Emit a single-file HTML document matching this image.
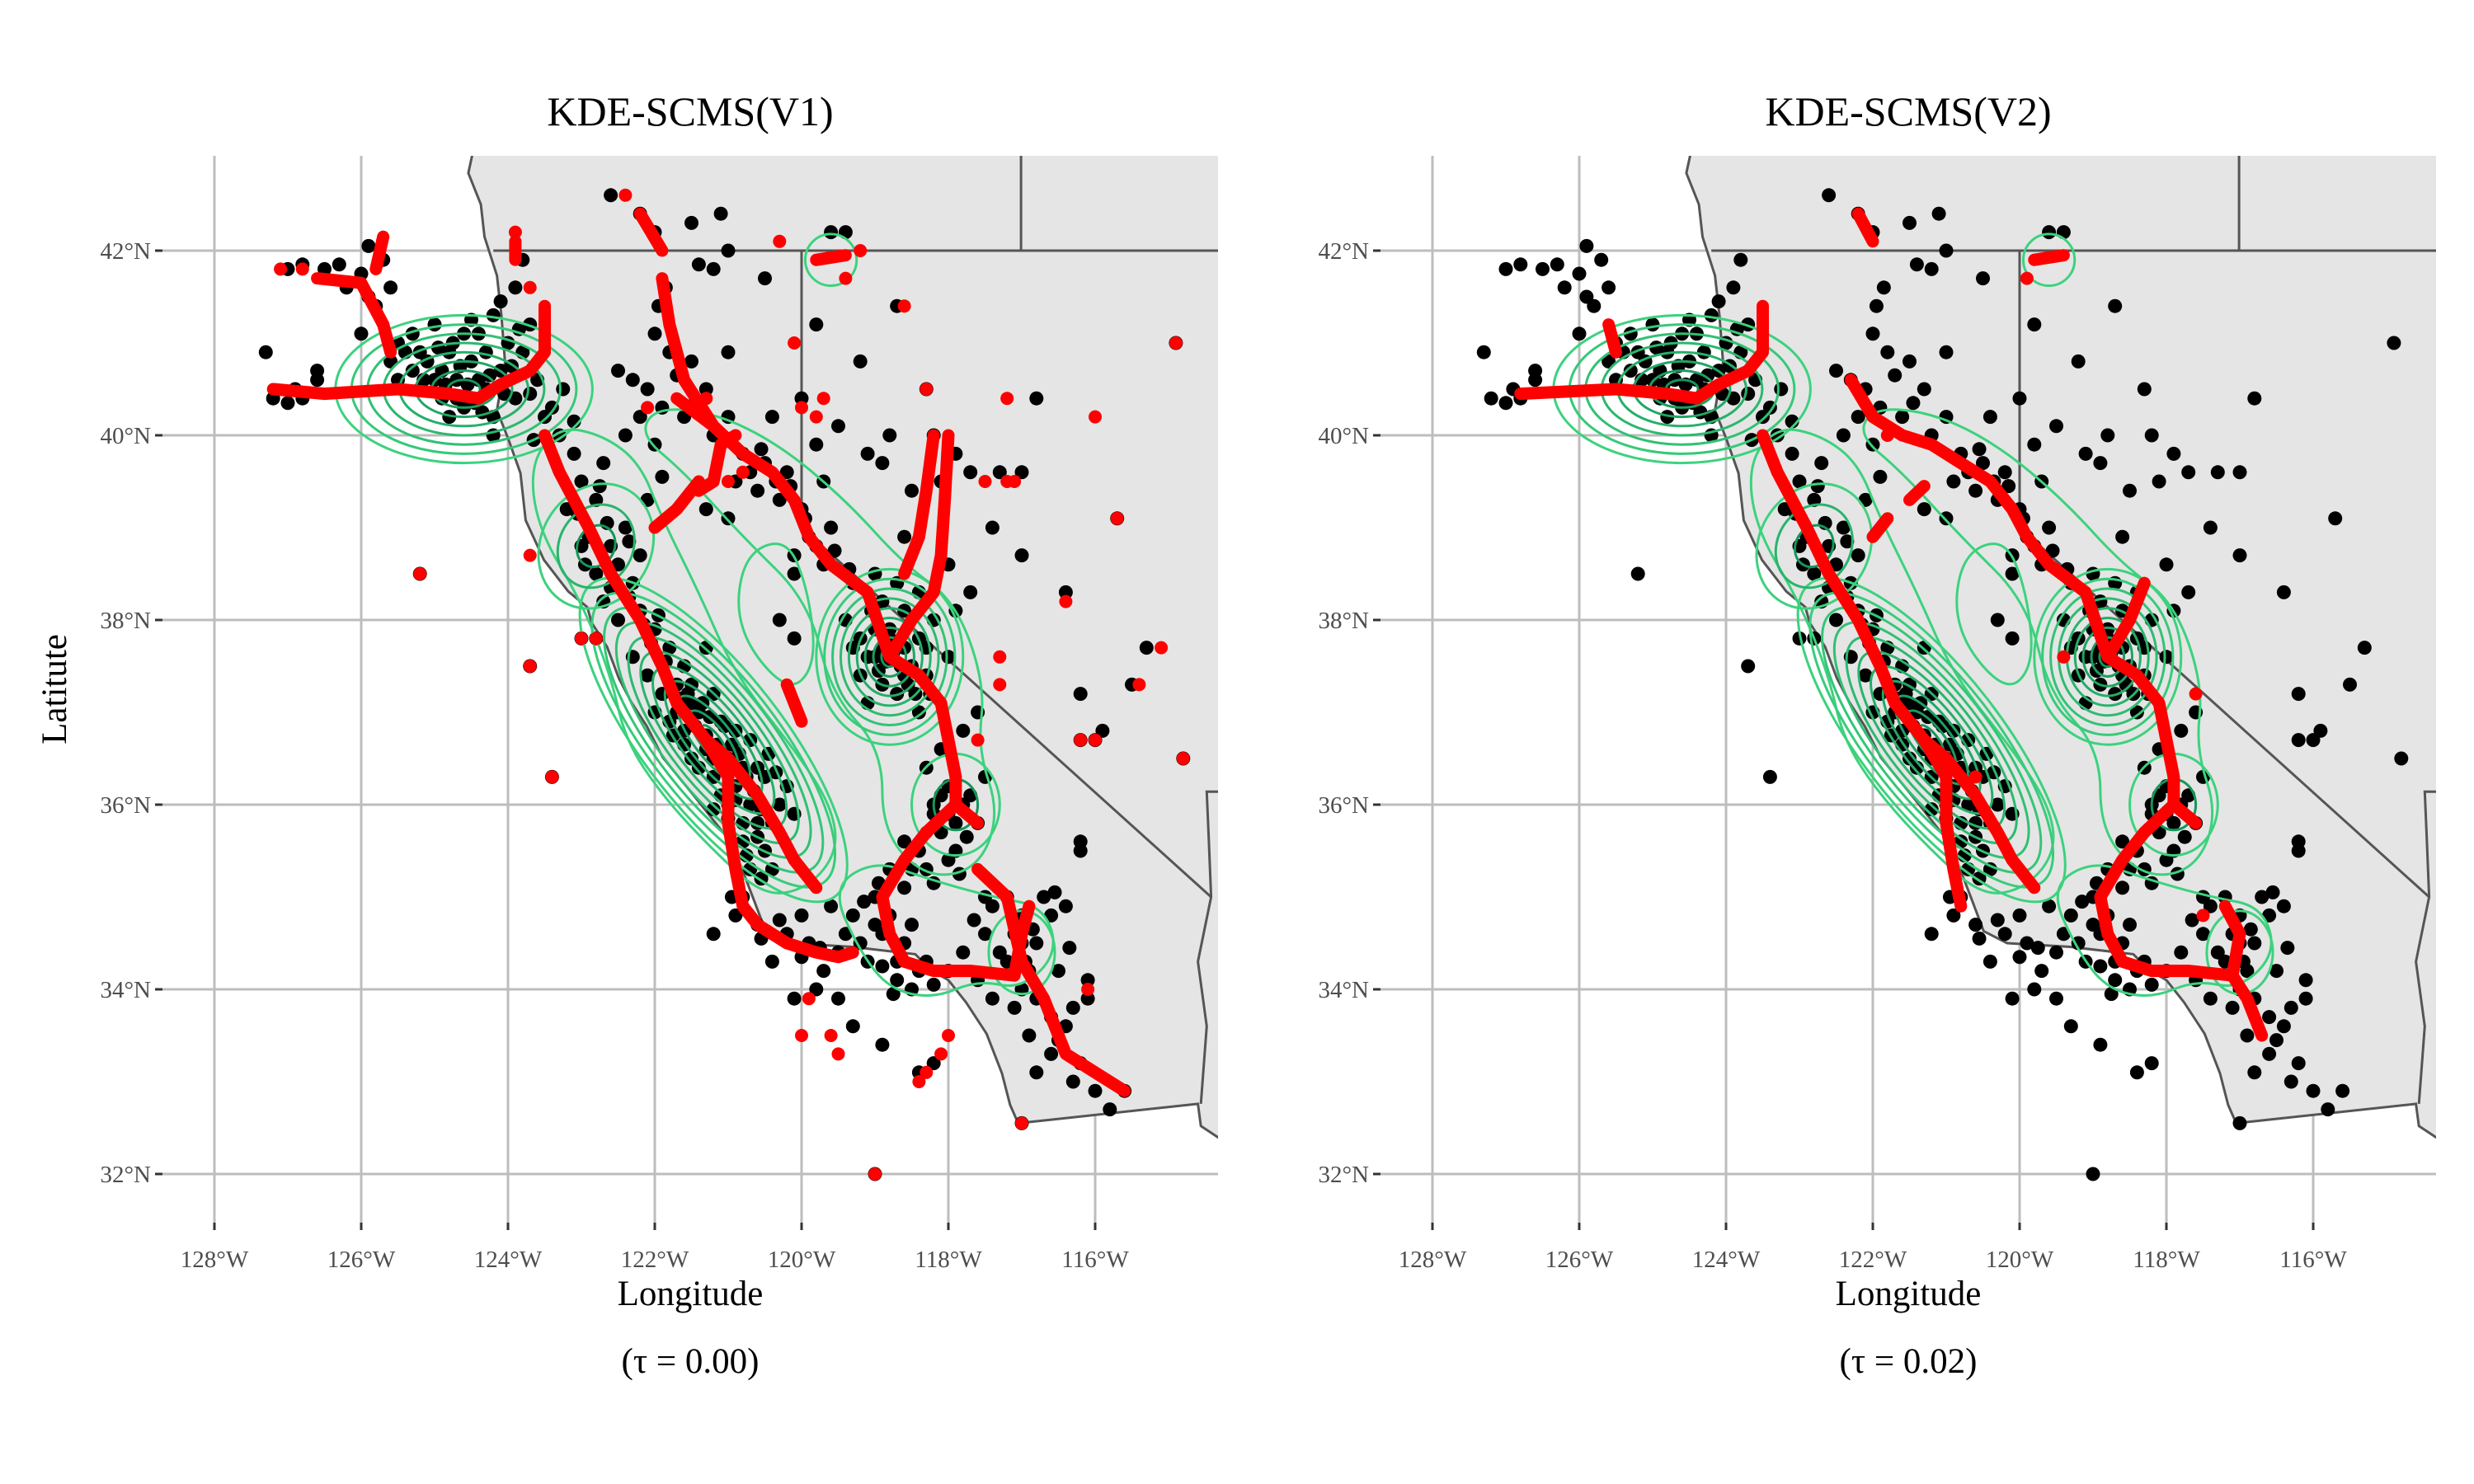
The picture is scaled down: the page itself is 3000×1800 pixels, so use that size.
<!DOCTYPE html>
<html><head><meta charset="utf-8"><style>
html,body{margin:0;padding:0;background:#fff;}
svg{display:block;font-family:"Liberation Serif",serif;}
</style></head><body>
<svg id="chart" width="3000" height="1800" viewBox="0 0 3000 1800" xmlns="http://www.w3.org/2000/svg"></svg>
<script>
// ---- data (lon, lat) ----
const lonTicks = [-128,-126,-124,-122,-120,-118,-116];
const lonTickLabels = ["128°W","126°W","124°W","122°W","120°W","118°W","116°W"];
const latTicks = [42,40,38,36,34,32];
const latTickLabels = ["42°N","40°N","38°N","36°N","34°N","32°N"];
const panelTitles = ["KDE-SCMS(V1)","KDE-SCMS(V2)"];
const panelTaus = ["(τ = 0.00)","(τ = 0.02)"];

const landPoly = [[-124.47,43.1],[-124.54,42.84],[-124.37,42.5],[-124.32,42.15],[-124.15,41.73],[-124.09,41.3],[-124.04,40.79],[-124.15,40.27],[-124.0,39.97],[-123.83,39.59],[-123.76,39.08],[-123.51,38.65],[-123.18,38.31],[-122.92,38.14],[-122.86,37.97],[-122.65,37.71],[-122.49,37.37],[-122.32,37.11],[-122.11,36.85],[-121.89,36.51],[-121.46,36.09],[-121.03,35.66],[-120.82,35.32],[-120.65,34.97],[-120.49,34.63],[-120.17,34.5],[-119.31,34.46],[-118.45,34.38],[-118.24,34.21],[-118.0,34.1],[-117.76,33.86],[-117.48,33.52],[-117.27,33.09],[-117.16,32.75],[-117.05,32.55],[-114.6,32.76],[-114.56,32.52],[-114.2,32.33],[-114.2,43.1]];
const borderOR = [[-124.2,42.0],[-114.2,42.0]];
const borderID = [[-117.01,43.1],[-117.01,42.0]];
const borderNV = [[-120.0,42.0],[-120.0,39.0],[-114.42,35.0]];
const borderAZ = [[-114.2,36.14],[-114.48,36.14],[-114.45,35.6],[-114.42,35.0],[-114.6,34.3],[-114.48,33.6],[-114.56,32.76]];

const blackPts = [[-127.3,40.9],[-127.2,40.4],[-127.0,40.35],[-126.9,40.5],[-126.8,40.4],[-126.6,40.6],[-126.5,41.8],[-126.3,41.85],[-126.2,41.6],[-126.0,41.75],[-125.9,41.5],[-125.8,41.4],[-125.7,41.9],[-125.9,42.05],[-126.0,41.1],[-125.6,41.6],[-125.5,41.0],[-125.4,40.9],[-125.3,40.7],[-125.2,40.5],[-125.1,40.8],[-125.0,40.6],[-124.9,40.4],[-124.8,40.9],[-124.7,40.6],[-124.6,40.3],[-124.5,40.8],[-124.4,41.1],[-124.3,40.5],[-124.2,40.2],[-124.1,40.7],[-124.0,41.0],[-123.9,40.4],[-123.8,40.9],[-124.6,41.1],[-125.0,41.2],[-124.8,40.2],[-125.5,40.6],[-126.6,40.7],[-127.0,41.8],[-126.8,41.85],[-124.2,41.3],[-123.7,41.2],[-123.6,40.6],[-123.5,40.2],[-123.8,41.9],[-123.9,41.6],[-124.2,40.0],[-124.4,40.6],[-124.9,40.7],[-125.2,40.9],[-124.7,40.4],[-124.3,40.9],
[-122.2,42.4],[-122.0,42.2],[-121.5,42.3],[-121.4,41.85],[-121.0,42.0],[-121.2,41.8],[-122.0,41.1],[-121.8,40.9],[-122.3,40.6],[-122.1,40.5],[-121.9,40.3],[-121.5,40.8],[-121.6,40.2],[-122.4,40.0],[-122.0,39.9],[-121.3,40.5],[-121.0,40.9],[-122.5,40.7],
[-123.4,40.3],[-123.3,40.0],[-123.1,39.8],[-123.0,39.5],[-122.8,39.3],[-122.7,39.7],[-123.2,39.2],[-122.9,38.9],[-122.6,38.8],[-122.5,38.6],[-122.3,38.4],[-122.8,38.5],[-123.0,38.8],[-122.4,39.0],[-122.2,38.7],[-122.7,38.2],[-122.5,38.0],[-122.2,38.1],[-122.0,37.9],[-122.3,37.6],[-121.8,37.7],[-122.1,37.4],[-121.9,37.2],[-121.7,37.0],[-121.5,37.3],[-121.6,36.8],[-121.3,36.6],[-121.4,37.0],[-121.1,36.9],[-121.0,36.5],[-121.2,36.3],[-120.9,36.2],[-120.7,36.0],[-121.0,36.0],[-120.6,35.8],[-120.8,35.6],[-120.5,35.5],[-120.7,35.3],[-120.4,35.3],[-120.6,36.4],[-120.9,36.8],[-121.2,37.2],[-120.7,36.7],[-120.5,36.3],[-120.3,36.0],[-120.4,35.8],[-120.1,35.9],[-121.5,36.5],[-121.8,36.9],[-122.0,37.0],[-121.6,37.5],[-121.3,37.7],[-121.4,36.4],[-121.1,36.1],[-120.8,36.4],[-121.7,37.3],
[-125.2,38.5],[-123.4,36.3],[-123.0,37.8],[-122.8,37.8],[-123.7,37.5],
[-121.2,40.0],[-120.8,39.8],[-120.5,39.7],[-120.6,39.4],[-120.3,39.3],[-120.0,39.2],[-120.2,39.6],[-119.8,39.9],[-119.7,39.5],[-120.9,39.5],[-121.0,40.2],[-120.4,40.2],[-119.9,38.9],[-119.6,39.0],[-119.7,38.6],[-120.1,38.5],[-120.3,38.0],[-120.1,37.8],
[-119.3,38.4],[-119.0,38.5],[-118.7,38.4],[-118.4,38.3],[-119.4,38.0],[-119.2,37.8],[-119.0,37.6],[-118.8,37.9],[-118.6,37.7],[-118.5,37.5],[-118.9,37.3],[-118.7,37.2],[-118.4,37.0],[-118.3,37.7],[-119.1,37.1],[-118.2,38.0],[-118.0,37.6],[-117.9,38.1],[-117.7,38.3],[-117.6,37.0],[-117.8,36.8],[-118.1,36.6],[-118.3,36.4],[-118.0,36.2],[-117.8,36.0],[-118.2,35.9],[-117.6,35.8],[-117.5,36.3],[-117.9,35.5],[-118.3,35.3],[-118.6,35.1],[-118.8,35.3],[-119.0,35.0],[-118.5,34.7],[-118.9,34.6],[-119.2,34.5],[-119.5,34.4],[-119.7,34.2],[-119.9,34.5],[-120.2,34.6],[-120.6,34.7],[-120.9,34.8],[-121.2,34.6],[-120.8,35.0],[-120.0,34.8],[-119.6,34.9],[-118.6,34.5],[-118.3,34.3],[-118.0,34.2],[-118.5,34.0],[-118.7,34.1],[-117.8,34.4],[-117.5,34.6],[-117.2,34.3],[-117.0,34.0],[-116.8,34.5],[-116.6,34.8],[-116.4,34.9],[-116.5,34.2],[-116.3,33.8],[-116.1,33.9],[-116.4,33.6],[-116.6,33.3],[-116.8,33.1],[-116.3,33.0],[-116.0,32.9],[-115.8,32.7],[-115.6,32.9],[-116.9,33.5],[-117.1,33.8],[-117.4,33.9],[-117.6,34.1],[-116.2,35.6],[-116.2,35.5],[-117.5,35.0],[-117.2,35.0],[-117.0,34.8],[-116.9,34.2],[-118.6,37.4],[-119.0,37.9],[-118.9,37.7],[-118.4,37.8],[-118.2,36.0],[-117.7,36.1],[-118.1,35.7],
[-119.5,33.9],[-119.3,33.6],[-118.9,33.4],[-118.4,33.1],[-120.1,33.9],[-120.4,34.3],[-119.8,34.0],[-118.2,33.2],
[-119.2,40.8],[-118.7,41.4],[-118.3,40.5],[-117.9,39.8],[-117.7,39.6],[-117.3,39.6],[-117.0,39.6],[-116.8,40.4],[-117.4,39.0],[-117.0,38.7],[-116.4,38.3],[-116.2,37.2],[-115.3,37.7],[-115.5,37.3],[-115.7,39.1],[-114.9,41.0],[-114.8,36.5],[-116.0,36.7],[-116.2,36.7],[-115.9,36.8],[-119.6,42.2],[-119.4,42.2],[-120.5,41.7],[-119.8,41.2],[-119.1,39.8],[-118.5,39.4],[-118.1,39.5],[-118.8,40.0],[-118.9,39.7],[-118.2,40.0],[-118.0,38.6],[-118.6,38.9],[-120.0,40.4],[-119.5,40.1],[-119.0,32.0],[-117.0,32.55],[-121.1,42.4],[-122.6,42.6]];
const blackPtsDense = [[-124.55,40.55],[-124.45,40.35],[-124.65,40.75],[-124.85,40.55],[-124.25,40.65],[-124.35,40.25],[-124.95,40.95],[-125.15,40.6],[-124.05,40.45],[-123.95,40.75],[-124.75,41.0],[-124.5,41.25],[-125.3,41.1],[-125.6,40.8],[-124.1,41.45],[-123.85,41.15],[-123.7,40.45],[-123.65,39.95],[-123.25,40.5],[-123.1,40.15],
[-121.3,36.75],[-121.15,36.65],[-121.05,36.85],[-121.25,36.95],[-121.45,36.85],[-121.35,37.1],[-121.5,37.1],[-120.95,36.65],[-120.85,36.55],[-121.1,36.45],[-120.75,36.3],[-120.65,36.15],[-120.9,36.05],[-121.0,35.85],[-120.8,35.8],[-120.55,35.95],[-121.55,37.2],[-121.65,37.15],[-121.85,37.55],[-122.05,37.75],[-121.95,38.05],[-122.15,37.95],[-122.35,38.25],[-122.6,38.35],[-121.2,36.5],[-121.6,36.65],[-121.75,36.75],[-120.45,36.55],[-120.35,36.35],[-120.2,36.2],[-120.6,35.65],[-120.75,35.45],[-121.2,35.95],[-120.55,35.2],[-120.95,35.0],
[-118.85,37.55],[-118.75,37.65],[-118.95,37.45],[-118.65,37.5],[-118.8,37.8],[-119.1,37.6],[-119.2,37.4],[-118.55,37.3],[-118.45,37.2],[-118.3,37.4],[-118.25,37.2],[-119.05,38.1],[-118.9,38.2],[-118.6,38.1],[-119.3,37.7],
[-118.0,35.9],[-117.9,35.8],[-118.1,36.1],[-117.75,35.65],[-118.0,35.4],[-118.4,35.5],[-118.6,35.6],[-118.8,34.8],[-119.0,34.7],[-118.7,34.3],[-118.9,34.25],[-118.4,34.2],[-118.2,34.05],[-118.75,33.95],[-119.1,34.3],[-117.3,34.4],[-117.0,34.5],[-117.1,34.6],[-116.95,34.3],[-116.8,33.9],[-116.6,33.7],[-116.5,33.45],[-116.2,33.2],[-116.7,35.0],[-116.55,35.05],
[-120.7,39.6],[-120.55,39.85],[-120.35,39.5],[-120.15,39.45],[-119.95,39.1],[-120.1,38.7],[-119.8,38.8],[-119.55,38.75],[-119.35,38.55],[-121.95,41.4],[-121.85,41.6],[-121.7,40.65],[-121.45,40.35],[-122.2,40.2],[-122.65,39.05],[-122.75,39.45],[-123.05,39.15],[-122.95,38.6],[-122.35,38.85],[-122.1,39.3],[-121.9,39.55],[-121.3,39.2],[-121.0,39.1],
[-120.0,34.35],[-119.75,34.45],[-119.4,34.6],[-120.3,34.75],[-120.55,34.55],[-119.3,34.8],[-119.15,34.95],[-118.95,35.15],[-118.5,35.3],[-118.2,35.15],[-117.85,35.25],[-117.4,34.9],[-117.65,34.75],[-116.85,34.65],[-116.35,34.45],[-116.1,34.1]];

const redPtsV1 = [[-122.4,42.6],[-123.9,42.2],[-123.7,41.6],[-120.3,42.1],[-119.2,42.0],[-119.4,41.7],[-120.1,41.0],[-120.0,40.3],[-118.6,41.4],[-118.3,40.5],[-117.2,40.4],[-116.0,40.2],[-114.9,41.0],[-115.7,39.1],[-116.4,38.2],[-115.1,37.7],[-115.4,37.3],[-114.8,36.5],[-116.0,36.7],[-116.2,36.7],[-117.3,37.6],[-117.5,39.5],[-117.2,39.5],[-119.7,40.4],[-125.2,38.5],[-123.7,37.5],[-123.4,36.3],[-123.0,37.8],[-122.8,37.8],[-123.7,38.7],[-116.1,34.0],[-117.0,32.55],[-119.0,32.0],[-119.6,33.5],[-119.5,33.3],[-119.9,33.9],[-120.0,33.5],[-118.4,33.0],[-118.3,33.1],[-118.1,33.3],[-118.0,33.5],[-117.1,39.5],[-119.8,40.2],[-121.0,39.5],[-121.3,40.4],[-122.1,40.3],[-120.8,39.6],[-117.6,36.7],[-118.3,35.7],[-127.1,41.8],[-126.8,41.8],[-117.3,37.3]];
const redPtsV2 = [[-119.9,41.7],[-117.5,34.8],[-121.8,40.0],[-120.6,36.3],[-119.4,37.6],[-117.6,37.2]];

const curvesV1 = [
[[-127.2,40.5],[-126.5,40.45],[-125.5,40.5],[-124.8,40.45],[-124.4,40.4],[-124.1,40.55],[-123.7,40.7],[-123.5,40.9],[-123.5,41.4]],
[[-126.6,41.7],[-126.0,41.65],[-125.7,41.2],[-125.6,40.9]],
[[-125.7,42.15],[-125.8,41.8]],
[[-123.5,40.0],[-123.3,39.6],[-122.9,39.0],[-122.6,38.5],[-122.2,38.0],[-121.9,37.5],[-121.7,37.1],[-121.3,36.7],[-121.0,36.5],[-120.6,36.1],[-120.3,35.7],[-120.1,35.4],[-119.8,35.1]],
[[-121.3,36.7],[-121.0,36.3],[-121.0,35.8],[-120.9,35.3],[-120.8,34.9],[-120.6,34.7],[-120.2,34.5],[-119.8,34.4],[-119.5,34.35],[-119.3,34.4]],
[[-121.7,40.4],[-121.2,40.1],[-120.8,39.8],[-120.4,39.6],[-120.1,39.3],[-119.9,38.9],[-119.6,38.6],[-119.1,38.3],[-118.8,37.6]],
[[-118.8,37.6],[-118.4,37.4],[-118.1,37.1],[-118.0,36.7],[-117.9,36.3],[-117.9,36.0]],
[[-118.8,37.6],[-118.5,38.0],[-118.2,38.3],[-118.1,38.7],[-118.05,39.3],[-118.0,40.0]],
[[-117.9,36.0],[-118.3,35.7],[-118.6,35.4],[-118.9,35.0],[-118.8,34.6],[-118.6,34.3],[-118.2,34.2],[-117.7,34.2],[-117.1,34.15],[-117.0,34.6],[-116.9,34.9]],
[[-117.9,36.0],[-117.6,35.8]],
[[-117.6,35.3],[-117.2,35.0],[-117.0,34.3],[-116.7,33.9],[-116.4,33.3],[-116.0,33.1],[-115.6,32.9]],
[[-121.9,41.7],[-121.8,41.2],[-121.6,40.6],[-121.2,40.1]],
[[-122.2,42.4],[-121.9,42.0]],
[[-123.9,42.1],[-123.9,41.9]],
[[-121.4,39.4],[-121.2,39.5],[-121.1,39.9],[-120.9,40.0]],
[[-122.0,39.0],[-121.7,39.2],[-121.4,39.5]],
[[-118.2,40.0],[-118.3,39.4],[-118.4,38.9],[-118.6,38.5]],
[[-119.8,41.9],[-119.4,41.95]],
[[-120.2,37.3],[-120.0,36.9]]
];
const curvesV2 = [
[[-126.8,40.45],[-125.5,40.5],[-124.8,40.45],[-124.4,40.4],[-124.1,40.55],[-123.7,40.7],[-123.5,40.9],[-123.5,41.4]],
[[-125.6,41.2],[-125.5,40.9]],
[[-123.5,40.0],[-123.3,39.6],[-122.9,39.0],[-122.6,38.5],[-122.2,38.0],[-121.9,37.5],[-121.7,37.1],[-121.3,36.7],[-121.0,36.5],[-120.6,36.1],[-120.3,35.7],[-120.1,35.4],[-119.8,35.1]],
[[-121.3,36.7],[-121.0,36.3],[-121.0,35.8],[-120.9,35.3],[-120.8,34.9]],
[[-122.3,40.6],[-122.0,40.2],[-121.6,40.0],[-121.2,39.9],[-120.8,39.7],[-120.4,39.5],[-120.1,39.2],[-119.9,38.9],[-119.6,38.6],[-119.1,38.3],[-118.8,37.6]],
[[-118.8,37.6],[-118.4,37.4],[-118.1,37.1],[-118.0,36.7],[-117.9,36.3],[-117.9,36.0]],
[[-118.8,37.6],[-118.5,38.0],[-118.3,38.4]],
[[-117.9,36.0],[-118.3,35.7],[-118.6,35.4],[-118.9,35.0],[-118.8,34.6],[-118.6,34.3],[-118.2,34.2],[-117.7,34.2],[-117.1,34.15],[-117.0,34.6],[-117.2,34.9]],
[[-117.9,36.0],[-117.6,35.8]],
[[-117.1,34.15],[-116.9,33.9],[-116.7,33.5]],
[[-122.2,42.4],[-122.0,42.1]],
[[-121.5,39.3],[-121.3,39.45]],
[[-122.0,38.9],[-121.8,39.1]],
[[-119.8,41.9],[-119.4,41.95]]
];
// contour families: center lon, center lat, outer half-axes (deg lon, deg lat), rotation deg, levels
const contourCenters = [[-124.6,40.5],[-121.2,36.7],[-118.8,37.6],[-122.8,38.8],[-117.9,36.0],[-117.0,34.4],[-119.6,41.9]];
const contourRadii = [[1.75,0.8],[2.7,0.75],[1.0,0.95],[0.75,0.7],[0.6,0.55],[0.45,0.45],[0.35,0.28]];
const contourAngles = [0,52,0,30,0,0,0];
const contourLevels = [8,11,9,3,2,1,1];
// outer low-density contour rings (lon, lat)
const outerContourValley = [[-123.7,39.7],[-123.6,39.0],[-123.0,38.2],[-122.6,37.4],[-122.4,36.7],[-121.9,36.1],[-121.2,35.5],[-120.5,35.0],[-119.9,35.1],[-119.5,35.5],[-119.6,36.0],[-120.1,36.6],[-120.9,37.4],[-121.4,38.3],[-121.9,39.1],[-122.2,39.7],[-122.7,40.0],[-123.3,40.1]];
const outerContourSierra = [[-122.0,40.3],[-121.2,40.25],[-120.3,39.9],[-119.4,39.3],[-118.6,38.6],[-117.9,38.2],[-117.5,37.3],[-117.6,36.6],[-117.3,35.9],[-117.6,35.3],[-118.3,35.2],[-118.9,35.7],[-118.9,36.6],[-119.6,37.2],[-119.9,38.2],[-120.8,38.9],[-121.6,39.6],[-122.2,40.0]];
const outerContourSouth = [[-119.6,35.1],[-119.2,34.4],[-118.8,34.0],[-118.2,33.9],[-117.6,34.1],[-117.0,34.0],[-116.5,34.4],[-116.7,34.9],[-117.4,35.0],[-118.3,35.2],[-119.0,35.4]];
const outerContourInner = [[-120.8,38.7],[-120.2,38.9],[-119.9,38.3],[-119.8,37.5],[-120.2,37.2],[-120.9,37.9]];

// ---- drawing ----
const svg = document.getElementById('chart');
const NS = 'http://www.w3.org/2000/svg';
const PW = 1280, PH = 1294, X0 = 197, Y0 = 189, OFF = 1477;
function mk(tag, attrs, parent){const e=document.createElementNS(NS,tag);for(const k in attrs)e.setAttribute(k,attrs[k]);(parent||svg).appendChild(e);return e;}
function xs(off){return lon => off + 260 + (lon+128)*89;}
function ys(lat){return 304 + (42-lat)*112;}
function pathOf(pts,x,close){return pts.map((p,i)=>(i?'L':'M')+x(p[0]).toFixed(1)+','+ys(p[1]).toFixed(1)).join('')+(close?'Z':'');}
function smoothOf(pts,x){
  const P = pts.map(p=>[x(p[0]),ys(p[1])]), n=P.length;
  let d='M'+((P[n-1][0]+P[0][0])/2).toFixed(1)+','+((P[n-1][1]+P[0][1])/2).toFixed(1);
  for(let i=0;i<n;i++){const a=P[i],b=P[(i+1)%n];d+='Q'+a[0].toFixed(1)+','+a[1].toFixed(1)+' '+((a[0]+b[0])/2).toFixed(1)+','+((a[1]+b[1])/2).toFixed(1);}
  return d+'Z';
}

function panel(idx){
  const off = idx*OFF, x = xs(off);
  const g = mk('g',{});
  
  
  const defs = mk('defs',{},g);
  const cp = mk('clipPath',{id:'clip'+idx},defs);
  mk('rect',{x:X0+off,y:Y0,width:PW,height:PH},cp);
  const grid = mk('g',{},g);
  
  
  lonTicks.forEach(v=>mk('line',{x1:x(v),x2:x(v),y1:Y0,y2:Y0+PH,stroke:'#bdbdbd','stroke-width':3},grid));
  latTicks.forEach(v=>mk('line',{x1:X0+off,x2:X0+off+PW,y1:ys(v),y2:ys(v),stroke:'#bdbdbd','stroke-width':3},grid));
  const map = mk('g',{'clip-path':'url(#clip'+idx+')'},g);
  
  
  const land = mk('path',{d:pathOf(landPoly,x,true),fill:'#e5e5e5',stroke:'#555','stroke-width':3},map);
  
  
  [borderOR,borderID,borderNV,borderAZ].forEach(b=>{
    const l=mk('path',{d:pathOf(b,x,false),fill:'none',stroke:'#555','stroke-width':3},map);
    
    
  });
  const pts = mk('g',{},map);
  
  
  blackPts.concat(blackPtsDense).forEach(p=>mk('circle',{cx:x(p[0]),cy:ys(p[1]),r:8.5,fill:'#000'},pts));
  const cont = mk('g',{fill:'none'},map);
  
  
  [outerContourValley,outerContourSierra,outerContourSouth,outerContourInner].forEach(c=>{
    const o = mk('path',{d:smoothOf(c,x),stroke:'rgb(60,210,125)','stroke-width':3},cont);
    
    
  });
  contourCenters.forEach((c,i)=>{
    const n = contourLevels[i];
    for(let k=0;k<n;k++){
      const f = (n-k)/n;
      const rx = contourRadii[i][0]*89*f, ry = contourRadii[i][1]*112*f;
      const t = n>1 ? k/(n-1) : 0;
      const col = 'rgb('+Math.round(60-40*t)+','+Math.round(210-60*t)+','+Math.round(125-35*t)+')';
      mk('ellipse',{cx:x(c[0]),cy:ys(c[1]),rx:rx,ry:ry,transform:'rotate('+contourAngles[i]+' '+x(c[0])+' '+ys(c[1])+')',stroke:col,'stroke-width':3},cont);
    }
  });
  const red = mk('g',{},map);
  
  
  (idx? curvesV2:curvesV1).forEach(c=>mk('path',{d:pathOf(c,x,false),fill:'none',stroke:'#ff0000','stroke-width':15,'stroke-linecap':'round','stroke-linejoin':'round'},red));
  (idx? redPtsV2:redPtsV1).forEach(p=>mk('circle',{cx:x(p[0]),cy:ys(p[1]),r:8,fill:'#ff0000'},red));
  const ax = mk('g',{},g);
  
  
  lonTicks.forEach((v,i)=>{
    mk('line',{x1:x(v),x2:x(v),y1:Y0+PH,y2:Y0+PH+9,stroke:'#333','stroke-width':3},ax);
    const t=mk('text',{x:x(v),y:1537,'font-size':29,'text-anchor':'middle',fill:'#4d4d4d'},ax);
    t.textContent=lonTickLabels[i];
  });
  latTicks.forEach((v,i)=>{
    mk('line',{x1:X0+off-9,x2:X0+off,y1:ys(v),y2:ys(v),stroke:'#333','stroke-width':3},ax);
    const t=mk('text',{x:X0+off-14,y:ys(v)+10,'font-size':29,'text-anchor':'end',fill:'#4d4d4d'},ax);
    t.textContent=latTickLabels[i];
  });
  const title=mk('text',{x:X0+off+PW/2,y:152,'font-size':50,'text-anchor':'middle',fill:'#000'},g);
  
  
  title.textContent=panelTitles[idx];
  const xt=mk('text',{x:X0+off+PW/2,y:1583,'font-size':43,'text-anchor':'middle',fill:'#000'},g);
  
  
  xt.textContent='Longitude';
  const tau=mk('text',{x:X0+off+PW/2,y:1665,'font-size':43,'text-anchor':'middle',fill:'#000'},g);
  
  
  tau.textContent=panelTaus[idx];
}
panel(0); panel(1);
const yt = mk('text',{x:0,y:0,'font-size':43,'text-anchor':'middle',fill:'#000',transform:'translate(80,836) rotate(-90)'});


yt.textContent='Latitute';
</script>
</body></html>
